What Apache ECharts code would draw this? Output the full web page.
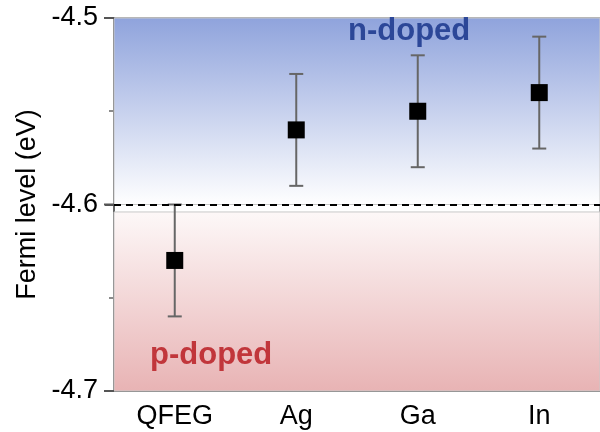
<!DOCTYPE html>
<html><head><meta charset="utf-8">
<script src="https://cdn.jsdelivr.net/npm/echarts@6/dist/echarts.min.js"></script>
<style>html,body{margin:0;padding:0;background:#fff}#c{width:600px;height:432px}</style>
</head><body><div id="c"></div>
<script>
const categories = ['QFEG', 'Ag', 'Ga', 'In'];
const fermiLevel = [-4.63, -4.56, -4.55, -4.54];
const errLow = [-4.66, -4.59, -4.58, -4.57];
const errHigh = [-4.60, -4.53, -4.52, -4.51];
const yMin = -4.7, yMax = -4.5, yStep = 0.1;
const yTicks = [-4.7, -4.6, -4.5];
const neutralLevel = -4.6;
const nDopedRange = [-4.6, -4.5];
const pDopedRange = [-4.7, -4.604];
const regionLabels = ['n-doped', 'p-doped'];

const chart = echarts.init(document.getElementById('c'));
const FONT = '"Liberation Sans", Arial, sans-serif';
const G = echarts.graphic;
const GRID_LEFT = 114;
chart.setOption({
  animation: false,
  grid: { left: GRID_LEFT, top: 18, width: 496, height: 373, show: true, borderColor: '#888', borderWidth: 1.5, backgroundColor: 'transparent' },
  xAxis: {
    type: 'category', data: categories,
    axisLine: { lineStyle: { color: '#666', width: 2 } },
    axisTick: { show: false },
    axisLabel: { color: '#000', fontSize: 27, fontFamily: FONT, margin: 12 }
  },
  yAxis: {
    type: 'value', min: yMin, max: yMax, interval: yStep,
    name: 'Fermi level (eV)', nameLocation: 'middle', nameGap: 72,
    nameTextStyle: { color: '#000', fontSize: 27, fontFamily: FONT },
    axisLine: { show: true, onZero: false, lineStyle: { color: '#666', width: 2 } },
    axisTick: { show: true, inside: false, length: 9, lineStyle: { color: '#555', width: 2 } },
    minorTick: { show: true, splitNumber: 2, length: 5, lineStyle: { color: '#666', width: 1.5 } },
    splitLine: { show: false },
    axisLabel: { color: '#000', fontSize: 27, fontFamily: FONT, margin: 16, formatter: v => v.toFixed(1) }
  },
  series: [
    {
      type: 'custom', z: 3,
      data: categories.map((c, i) => [i, errLow[i], errHigh[i]]),
      renderItem: function (params, api) {
        const lo = api.coord([api.value(0), api.value(1)]);
        const hi = api.coord([api.value(0), api.value(2)]);
        const hw = 7;
        const st = { stroke: '#666', lineWidth: 2 };
        return { type: 'group', children: [
          { type: 'line', shape: { x1: lo[0], y1: lo[1], x2: hi[0], y2: hi[1] }, style: st },
          { type: 'line', shape: { x1: lo[0] - hw, y1: lo[1], x2: lo[0] + hw, y2: lo[1] }, style: st },
          { type: 'line', shape: { x1: hi[0] - hw, y1: hi[1], x2: hi[0] + hw, y2: hi[1] }, style: st }
        ]};
      }
    },
    {
      type: 'scatter', z: 4,
      symbol: 'rect', symbolSize: 17,
      itemStyle: { color: '#000', opacity: 1 },
      data: categories.map((c, i) => [i, fermiLevel[i]]),
      markArea: {
        silent: true,
        data: [
          [{ yAxis: nDopedRange[1], itemStyle: { color: new G.LinearGradient(0, 0, 0, 1, [{ offset: 0, color: '#8fa3dc' }, { offset: 1, color: '#ffffff' }]), borderColor: '#c8c8c8', borderWidth: 1 } }, { yAxis: nDopedRange[0] }],
          [{ yAxis: pDopedRange[1], itemStyle: { color: new G.LinearGradient(0, 0, 0, 1, [{ offset: 0, color: '#fdf8f8' }, { offset: 1, color: '#e8b3b4' }]), borderColor: '#c8c8c8', borderWidth: 1 } }, { yAxis: pDopedRange[0] }]
        ]
      },
      markLine: {
        silent: true, symbol: 'none', label: { show: false },
        lineStyle: { color: '#000', width: 2, type: [7, 5] },
        data: [{ yAxis: neutralLevel }]
      }
    }
  ]
});
const tickGraphics = yTicks.map((v, i) => {
  const y = chart.convertToPixel({ yAxisIndex: 0 }, v);
  return { type: 'line', id: 'tick' + i, z: 20, silent: true, shape: { x1: GRID_LEFT - 10, y1: y, x2: GRID_LEFT, y2: y }, style: { stroke: '#555', lineWidth: 2 } };
});
chart.setOption({
  graphic: [
    { type: 'text', id: 'nlab', left: 348, top: 16, z: 10, style: { text: regionLabels[0], fill: '#2c4798', font: 'bold 31px ' + FONT } },
    { type: 'text', id: 'plab', left: 150, top: 340, z: 10, style: { text: regionLabels[1], fill: '#c1363b', font: 'bold 31px ' + FONT } }
  ].concat(tickGraphics)
});
</script></body></html>
